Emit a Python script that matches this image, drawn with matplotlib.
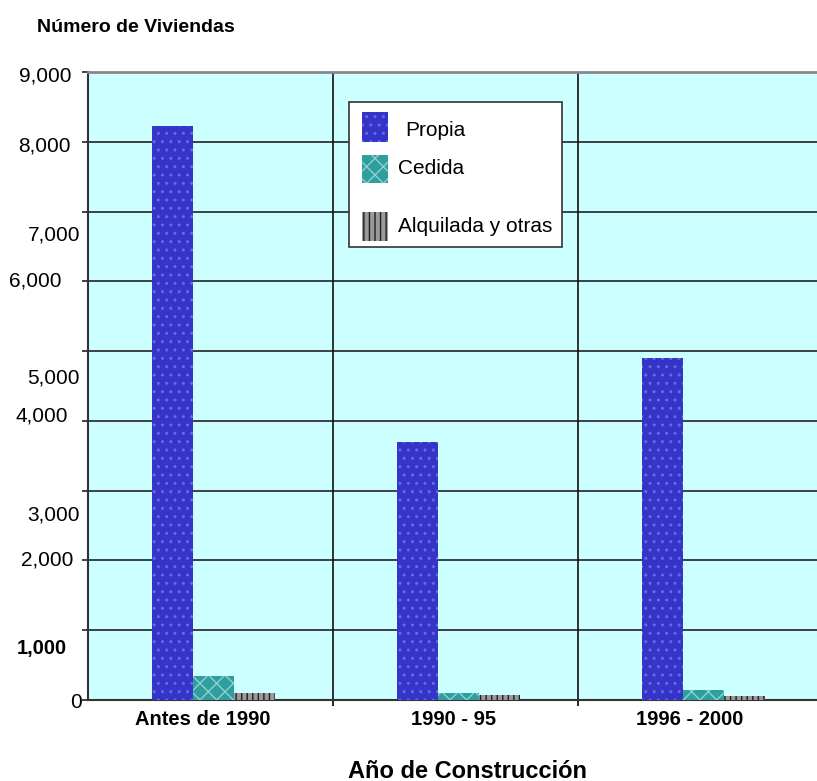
import matplotlib
matplotlib.use("Agg")
import matplotlib.pyplot as plt
from matplotlib.patches import Rectangle
import numpy as np

plt.rcParams['font.family'] = ['Liberation Sans', 'DejaVu Sans']
plt.rcParams['hatch.linewidth'] = 1.0

categories = ["Antes de 1990", "1990 - 95", "1996 - 2000"]
series_names = ["Propia", "Cedida", "Alquilada y otras"]
propia = [8230, 3700, 4905]
cedida = [345, 100, 140]
alquilada = [105, 65, 55]
values = [propia, cedida, alquilada]

ytick_values = [0, 1000, 2000, 3000, 4000, 5000, 6000, 7000, 8000, 9000]
ytick_labels = ["0", "1,000", "2,000", "3,000", "4,000", "5,000", "6,000", "7,000", "8,000", "9,000"]
# label placement quirks of the original (data-y of label centre, right edge offset px)
ylabel_pos = [-30, 745, 2010, 2655, 4075, 4620, 6000, 6670, 7935, 8940]
ylabel_dx = [-6, -21, -15, -8, -20, -8, -26, -8, -17, -17]
ylabel_bold = [False, True, False, False, False, False, False, False, False, False]

styles = [
    dict(facecolor="#3434c8", edgecolor="#6a6ae0", hatch=".."),
    dict(facecolor="#2e9e9e", edgecolor="#8fd0d0", hatch="xx"),
    dict(facecolor="#9a9a9a", edgecolor="#202020", hatch="|||"),
]

W, H = 817, 781
fig = plt.figure(figsize=(W / 100, H / 100), dpi=100)
x0, x1, y0, y1 = 88, 823, 72, 700
ax = fig.add_axes([x0 / W, 1 - y1 / H, (x1 - x0) / W, (y1 - y0) / H])
ax.set_facecolor("#ccffff")

bar_w = 0.168
start = 0.26
x = np.arange(len(categories))
for k, (vals, st) in enumerate(zip(values, styles)):
    ax.bar(x + start + bar_w * (k + 0.5), vals, width=bar_w, linewidth=0, zorder=3, **st)

ax.set_xlim(0, 3)
ax.set_ylim(0, 9000)

for v in ytick_values[1:-1]:
    ax.axhline(v, color="#222222", lw=1.2, zorder=1)
for xv in [1, 2]:
    ax.axvline(xv, color="#111111", lw=1.2, zorder=1)

ax.set_yticks(ytick_values)
ax.set_yticklabels([])
ax.tick_params(axis='y', direction='out', length=4, width=1.2, color="#222222")
for lab, yp, dx, b in zip(ytick_labels, ylabel_pos, ylabel_dx, ylabel_bold):
    ax.annotate(lab, xy=(0, yp), xycoords=('axes fraction', 'data'),
                xytext=(dx, 0), textcoords='offset pixels', ha='right', va='center',
                fontsize=14.5 if b else 15, fontweight='bold' if b else 'normal',
                annotation_clip=False)

label_x = [0.469, 1.494, 2.457]
ax.set_xticks(label_x)
ax.set_xticklabels(categories, fontsize=14.5, fontweight='bold')
ax.tick_params(axis='x', length=0, pad=7)
ax.set_xticks([1, 2], minor=True)
ax.tick_params(axis='x', which='minor', direction='out', length=4, width=1.2)

ax.spines['right'].set_visible(False)
ax.spines['top'].set_color("#888888")
ax.spines['top'].set_linewidth(2)
ax.spines['left'].set_color("#333333")
ax.spines['left'].set_linewidth(1.5)
ax.spines['bottom'].set_color("#333333")
ax.spines['bottom'].set_linewidth(1.5)

fig.text(37 / W, 1 - 28 / H, "Número de Viviendas", fontsize=14, fontweight='bold',
         ha='left', va='center')
fig.text(467 / W, 1 - 771 / H, "Año de Construcción", fontsize=17, fontweight='bold',
         ha='center', va='center')

# legend box
def px(xp, yp):
    return xp / W, 1 - yp / H

lx, ly = px(349, 247)
fig.patches.append(Rectangle((lx, ly), (562 - 349) / W, (247 - 102) / H, transform=fig.transFigure,
                             facecolor='white', edgecolor='#333333', lw=1.2, zorder=5))
sw = [(112, 142), (155, 183), (212, 241)]
tx = [(405, 130), (398, 168), (398, 226)]
for (ta, tb), (txp, typ), st, name in zip(sw, tx, styles, series_names):
    sx, sy = px(362, tb)
    fig.patches.append(Rectangle((sx, sy), 26 / W, (tb - ta) / H, transform=fig.transFigure,
                                 linewidth=0, zorder=6, **st))
    fig.text(txp / W, 1 - typ / H, name, fontsize=15, ha='left', va='center', zorder=7)

fig.savefig("out.png", dpi=100)
